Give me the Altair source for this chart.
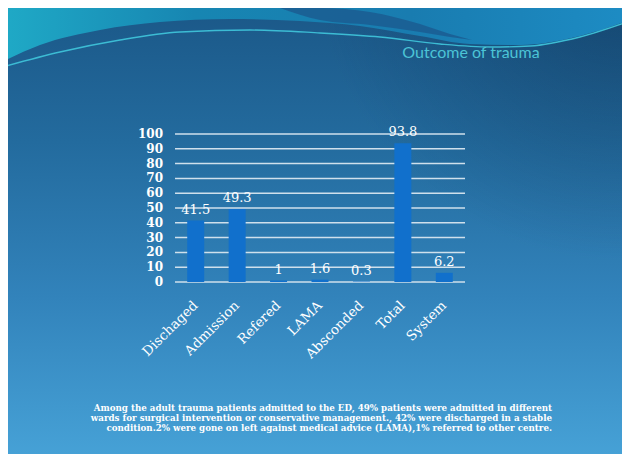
import altair as alt
import pandas as pd

# ---- chart data ----
categories = ["Dischaged", "Admission", "Refered", "LAMA", "Absconded", "Total", "System"]
values = [41.5, 49.3, 1, 1.6, 0.3, 93.8, 6.2]
y_ticks = [0, 10, 20, 30, 40, 50, 60, 70, 80, 90, 100]
title_text = "Outcome of trauma"
note_lines = [
    "Among the adult trauma patients admitted to the ED, 49% patients were admitted in different",
    "wards for surgical intervention or conservative management., 42% were discharged in a stable",
    "condition.2% were gone on left against medical advice (LAMA),1% referred to other centre.",
]

# ---- slide decoration (wave), in page pixel coordinates ----
wave_x = [6, 40, 100, 160, 230, 300, 360, 420, 470, 520, 580, 630]
wave_edge = [60, 45, 30, 22, 19, 21, 26, 36, 44, 45, 36, 20]
wave_line_x = [6, 60, 120, 180, 250, 320, 380, 440, 490, 530, 580, 630]
wave_line_y = [66, 52, 40, 32, 30, 33, 37, 44, 47, 46, 37, 21]
streak_x = [280, 320, 370, 420, 450, 472]
streak_top = [8, 8, 12, 24, 34, 40]
streak_bot = [8, 20, 25, 32, 37, 40]

W, H = 290, 148
PAD_L, PAD_T = 167, 126
SVG_W, SVG_H = 614, 446
OX, OY = 175, 134  # page position of plot origin

df = pd.DataFrame({"cat": categories, "val": values,
                   "lbl": [f"{v:g}" for v in values]})
grid_df = pd.DataFrame({"val": y_ticks, "lbl": [str(t) for t in y_ticks]})
one = pd.DataFrame({"k": [0]})

# background slide
bg_grad = alt.LinearGradient(
    gradient="linear",
    stops=[alt.GradientStop(color="#1b5888", offset=0),
           alt.GradientStop(color="#236b9e", offset=0.3),
           alt.GradientStop(color="#3283bb", offset=0.65),
           alt.GradientStop(color="#46a1d6", offset=1)],
    x1=0, x2=0, y1=0, y2=1)
bg = alt.Chart(one).mark_rect(color=bg_grad).encode(
    x=alt.value(-PAD_L), x2=alt.value(SVG_W - PAD_L),
    y=alt.value(-PAD_T), y2=alt.value(SVG_H - PAD_T))

dark_grad = alt.RadialGradient(
    gradient="radial",
    stops=[alt.GradientStop(color="rgba(14,50,84,0.5)", offset=0),
           alt.GradientStop(color="rgba(14,50,84,0)", offset=1)],
    x1=1, y1=0.05, r1=0, x2=1, y2=0.05, r2=0.5)
dark = alt.Chart(one).mark_rect(color=dark_grad).encode(
    x=alt.value(-PAD_L), x2=alt.value(SVG_W - PAD_L),
    y=alt.value(-PAD_T), y2=alt.value(SVG_H - PAD_T))

xs = alt.Scale(domain=[0, 630], range=[-OX, 630 - OX], nice=False, zero=False)
ys = alt.Scale(domain=[0, 468], range=[-OY, 468 - OY], nice=False, zero=False)

teal_grad = alt.LinearGradient(
    gradient="linear",
    stops=[alt.GradientStop(color="#1fa9c6", offset=0),
           alt.GradientStop(color="#1786b2", offset=0.3),
           alt.GradientStop(color="#197cb0", offset=0.65),
           alt.GradientStop(color="#1d8cc4", offset=1)],
    x1=0, x2=1, y1=0, y2=0)
teal = alt.Chart(pd.DataFrame({"px": wave_x, "top": [8] * len(wave_x), "bot": wave_edge})).mark_area(
    color=teal_grad, interpolate="monotone").encode(
    x=alt.X("px:Q", scale=xs, axis=None),
    y=alt.Y("top:Q", scale=ys, axis=None),
    y2="bot:Q")
streak = alt.Chart(pd.DataFrame({"px": streak_x, "top": streak_top, "bot": streak_bot})).mark_area(
    color="#1b5e94", opacity=0.9, interpolate="monotone").encode(
    x=alt.X("px:Q", scale=xs, axis=None),
    y=alt.Y("top:Q", scale=ys, axis=None),
    y2="bot:Q")
wline = alt.Chart(pd.DataFrame({"px": wave_line_x, "py": wave_line_y})).mark_line(
    color="#3cbcd4", strokeWidth=1.3, interpolate="monotone").encode(
    x=alt.X("px:Q", scale=xs, axis=None),
    y=alt.Y("py:Q", scale=ys, axis=None))
waves = alt.layer(teal, streak, wline)

# ---- bar chart ----
x_enc = alt.X("cat:N", sort=categories,
              scale=alt.Scale(paddingInner=0.59, paddingOuter=0.295),
              axis=alt.Axis(title=None, labelAngle=315, labelColor="white",
                            labelFont="DejaVu Serif", labelFontSize=13.5,
                            labelAlign="right", labelBaseline="middle",
                            labelPadding=21, domain=False, ticks=False,
                            grid=False, labelOverlap=False, zindex=1))
y_scale = alt.Scale(domain=[0, 100], nice=False)
y_enc = alt.Y("val:Q", scale=y_scale, axis=None)

grid = alt.Chart(grid_df).mark_rule(color="#cfe0ec", strokeWidth=1.5).encode(
    y=y_enc, x=alt.value(0), x2=alt.value(W))
ylabels = alt.Chart(grid_df).mark_text(
    align="right", baseline="middle", color="white", font="DejaVu Serif",
    fontWeight="bold", fontSize=12).encode(
    y=y_enc, x=alt.value(-12), text="lbl:N")
bars = alt.Chart(df).mark_bar(color="#1170cc").encode(x=x_enc, y=y_enc)
labels = alt.Chart(df).mark_text(
    dy=-4, baseline="bottom", color="white", font="DejaVu Serif", fontSize=13).encode(
    x=alt.X("cat:N", sort=categories), y=y_enc, text="lbl:N")
plot = alt.layer(grid, ylabels, bars, labels)

title = alt.Chart(one).mark_text(
    text=title_text, font="Lato", fontSize=16, color="#4cc4d6",
    align="center", baseline="middle").encode(
    x=alt.value(471 - OX), y=alt.value(53 - OY))
note = alt.Chart(one).mark_text(
    text=note_lines, font="DejaVu Serif", fontWeight="bold", fontSize=8.7,
    color="white", align="right", baseline="top", lineHeight=10).encode(
    x=alt.value(552 - OX), y=alt.value(404 - OY))

chart = alt.layer(bg, dark, waves, plot, title, note).resolve_scale(
    x="independent", y="independent").properties(
    width=W, height=H,
    padding={"left": PAD_L, "top": PAD_T,
             "right": SVG_W - PAD_L - W, "bottom": SVG_H - PAD_T - H},
    autosize=alt.AutoSizeParams(type="none"),
    background="white",
).configure_view(stroke=None)

chart.save("out.html", embed_options={"renderer": "svg", "actions": False})
